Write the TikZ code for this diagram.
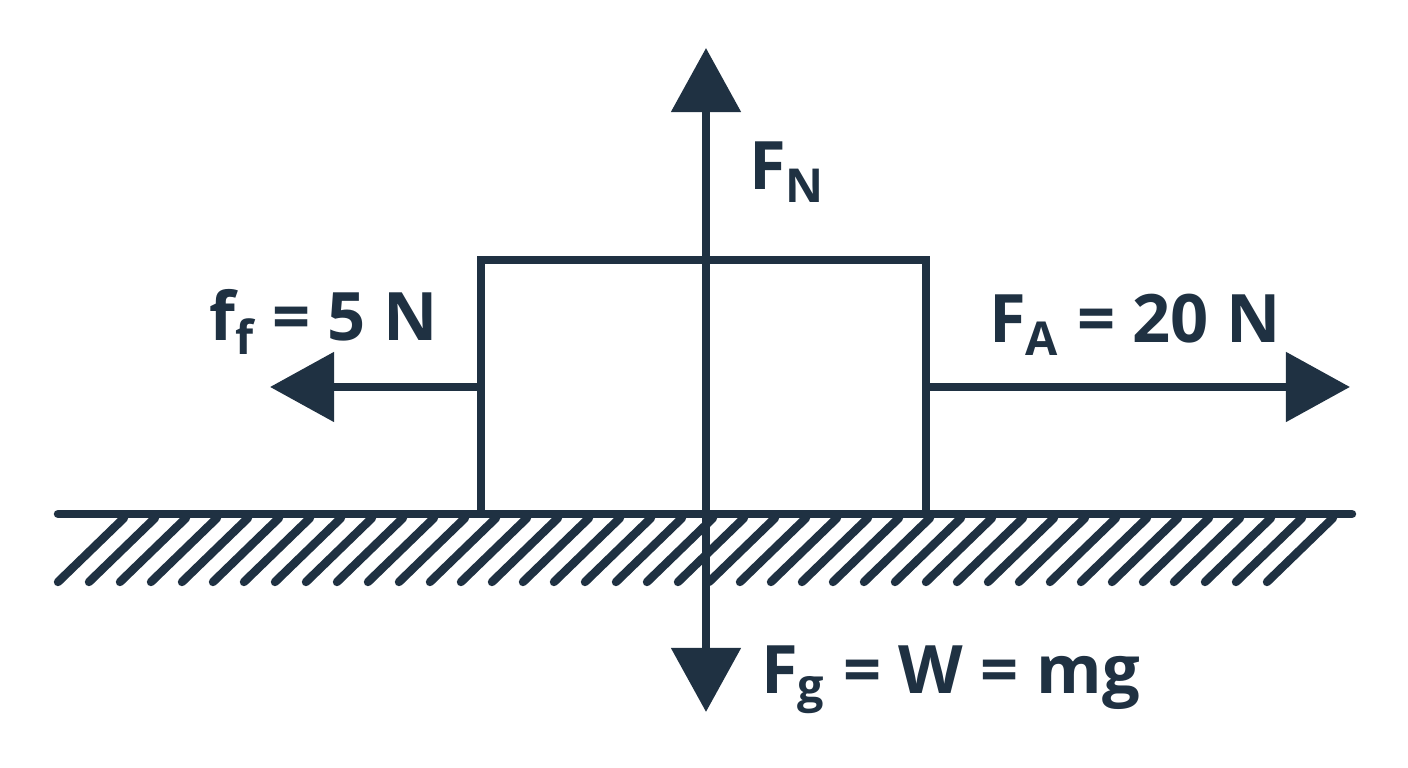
\documentclass[tikz,border=0pt]{standalone}
\usepackage{fontspec}
\setmainfont{Open Sans}
\usetikzlibrary{arrows.meta,positioning}
\definecolor{ink}{HTML}{1F3142}
\tikzset{
 force/.style={ink,line width=2.4pt,-{Triangle[length=6.4mm,width=6.8mm]}},
 lbl/.style={ink,font=\fontsize{19}{22}\selectfont\bfseries,inner sep=0pt},
}
\begin{document}
\begin{tikzpicture}[x=0.01cm,y=-0.01cm,line width=2.4pt]
 \useasboundingbox (0,0) rectangle (1408,768);
 % ground
 \draw[ink,line cap=round] (58,514) coordinate (g0) -- (1352,514) coordinate (g1);
 \foreach \i in {0,...,39} {
  \draw[ink,line cap=round] ({58+31*\i},582) -- ++(66,-64);
 }
 % block
 \node[draw=ink,line width=2.4pt,minimum width=4.45cm,minimum height=2.54cm,inner sep=0pt] (box) at (703.5,387) {};
 % forces
 \coordinate (c) at (706,387);
 \coordinate (top) at (706,48);
 \coordinate (bot) at (706,712);
 \draw[force] (c) -- (top);
 \draw[force] (c) -- (bot);
 \draw[force] (box.west |- c) -- (270,387);
 \draw[force] (box.east |- c) -- (1350,387);
 % labels
 \node[lbl,anchor=west] (fn) at (745,172) {F\textsubscript{N}};
 \node[lbl,anchor=west] (ff) at (205,322) {f\textsubscript{f} = 5 N};
 \node[lbl,anchor=west] (fa) at (985,325) {F\textsubscript{A} = 20 N};
 \node[lbl,anchor=west] (fg) at (757,680) {F\textsubscript{g} = W = mg};
\end{tikzpicture}
\end{document}
